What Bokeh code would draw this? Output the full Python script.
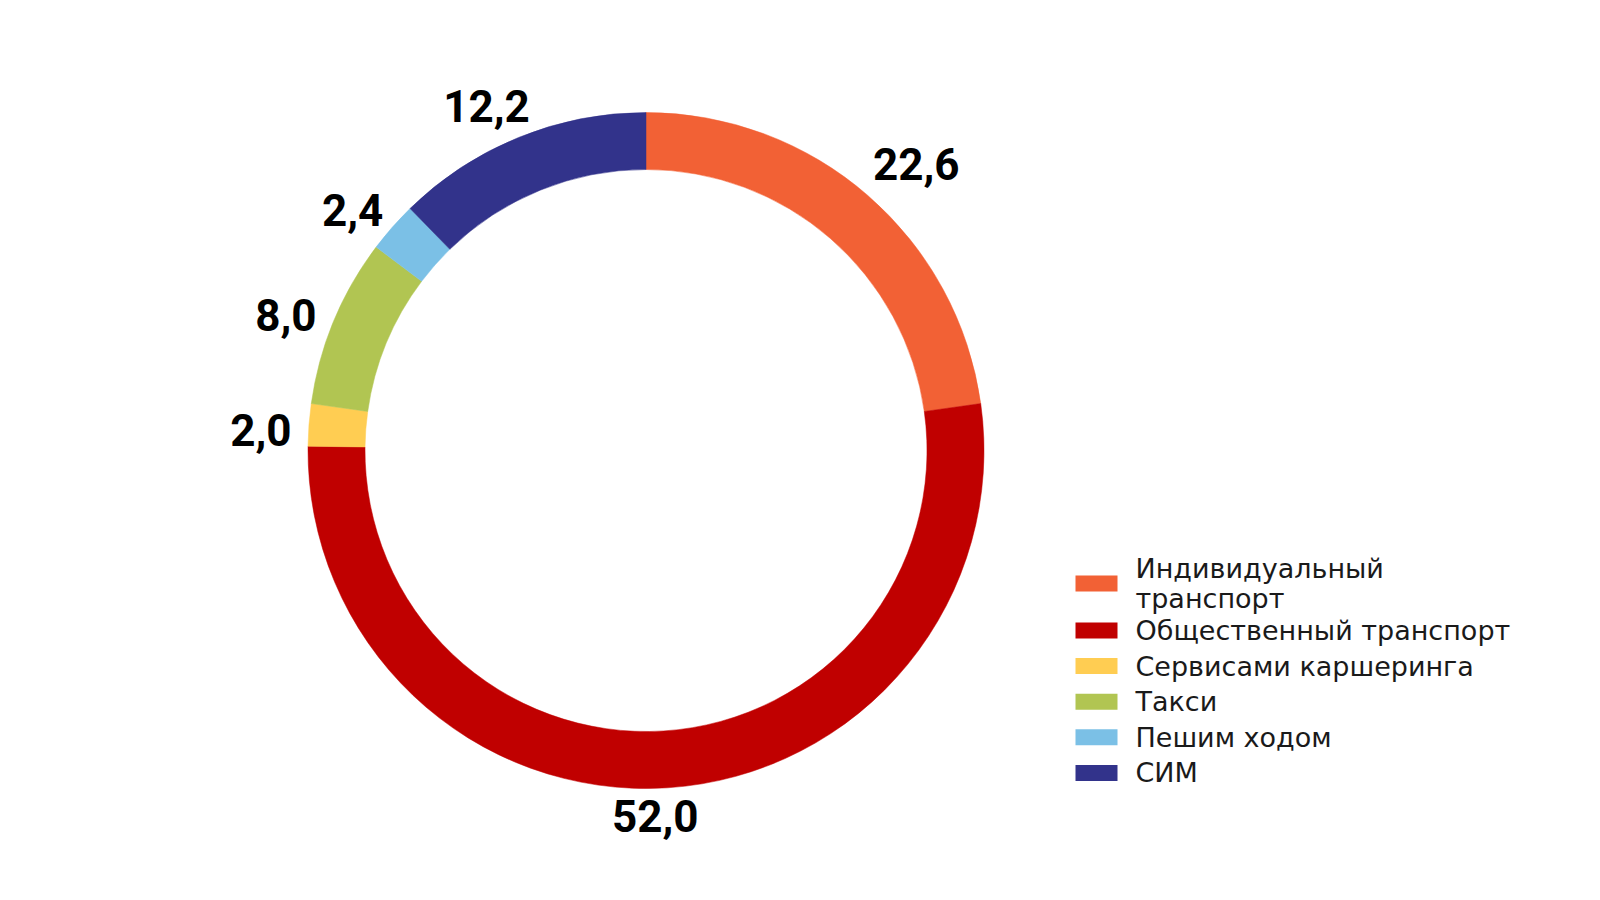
import math
from bokeh.plotting import figure
from bokeh.models import Range1d, ColumnDataSource
from bokeh.core.properties import value
from bokeh.embed import file_html
from bokeh.resources import INLINE

categories = ["Индивидуальный\nтранспорт", "Общественный транспорт", "Сервисами каршеринга",
              "Такси", "Пешим ходом", "СИМ"]
values = [22.6, 52.0, 2.0, 8.0, 2.4, 12.2]
labels = ["22,6", "52,0", "2,0", "8,0", "2,4", "12,2"]
colors = ["#F26135", "#C00000", "#FFCD52", "#B1C552", "#7BC0E6", "#32338B"]

# label placement nudges in screen pixels (style only)
nudge_x = [14, -14, 0, -2, -4, -16]
nudge_y = [8, -2, 9, 13, 14, 8]

W, H = 1584, 884
IMG_H = 900
p = figure(width=W, height=H, output_backend="svg", toolbar_location=None,
           x_range=Range1d(0, W), y_range=Range1d(IMG_H - H, IMG_H), min_border=0)
p.axis.visible = False
p.grid.visible = False
p.outline_line_color = None
p.background_fill_color = "white"
p.border_fill_color = "white"

cx, cy = 645.5, IMG_H - 450
r_out, r_in = 338, 281

total = sum(values)
starts, ends, lx, ly = [], [], [], []
cum = 0.0
for v, lab, nx, ny in zip(values, labels, nudge_x, nudge_y):
    a0 = math.pi / 2 - 2 * math.pi * cum / total
    cum += v
    a1 = math.pi / 2 - 2 * math.pi * cum / total
    starts.append(a0)
    ends.append(a1)
    mid = (a0 + a1) / 2
    dx, dy = math.cos(mid), math.sin(mid)
    hw = len(lab) * 21 / 2
    hh = 12
    rr = r_out + 16 + abs(dx) * hw + abs(dy) * hh
    lx.append(cx + rr * dx + nx)
    ly.append(cy + rr * dy - ny)

src = ColumnDataSource(dict(start=starts, end=ends, color=colors, lx=lx, ly=ly, lab=labels))
p.annular_wedge(x=cx, y=cy, inner_radius=r_in, outer_radius=r_out,
                start_angle="start", end_angle="end", direction="clock",
                fill_color="color", line_color="color", line_width=0.5, source=src)
p.text(x="lx", y="ly", text="lab", source=src, text_font=value("Roboto"),
       text_font_style="bold", text_font_size="44px", text_color="#000000",
       text_align="center", text_baseline="middle")

# legend
sw_x0, sw_x1 = 1075, 1117
row_centers = []
y = 583
for i, c in enumerate(categories):
    row_centers.append(y)
    n_lines = len(c.split("\n"))
    y += 35.6 + (n_lines - 1) * 11.4
sw_y = [IMG_H - yc for yc in row_centers]
txt_x, txt_y, txt = [], [], []
for yc, c in zip(row_centers, categories):
    lines = c.split("\n")
    n = len(lines)
    for j, ln in enumerate(lines):
        txt_x.append(1135)
        txt_y.append(IMG_H - (yc + (j - (n - 1) / 2) * 29.5))
        txt.append(ln)
lsrc = ColumnDataSource(dict(y=sw_y, color=colors))
p.rect(x=(sw_x0 + sw_x1) / 2, y="y", width=sw_x1 - sw_x0, height=16,
       fill_color="color", line_color=None, source=lsrc)
tsrc = ColumnDataSource(dict(x=txt_x, y=txt_y, t=txt))
p.text(x="x", y="y", text="t", source=tsrc, text_font=value("DejaVu Sans"),
       text_font_size="27px", text_color="#1a1a1a", text_align="left",
       text_baseline="middle")

open("out.html", "w").write(file_html(p, INLINE))
